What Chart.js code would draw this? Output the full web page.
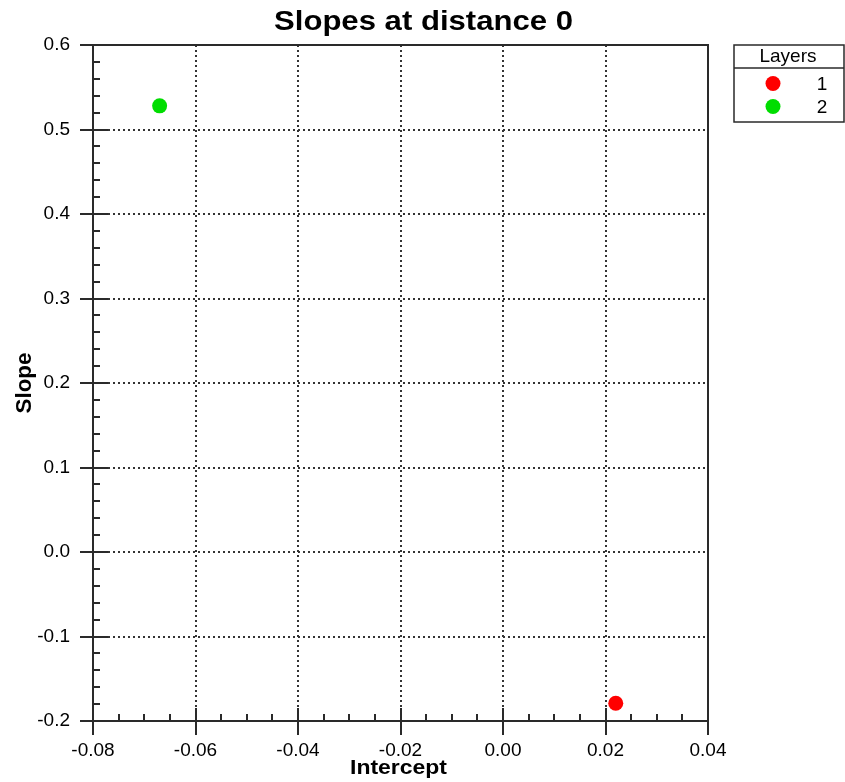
<!DOCTYPE html>
<html>
<head>
<meta charset="utf-8">
<script src="https://cdn.jsdelivr.net/npm/chart.js@4"></script>
<style>
html,body{margin:0;padding:0;background:#fff;}
#wrap{width:845px;height:782px;position:relative;}
</style>
</head>
<body>
<div id="wrap"><canvas id="c" width="845" height="782"></canvas></div>
<script>
// ---- data ----
const chartTitle = 'Slopes at distance 0';
const xAxisTitle = 'Intercept';
const yAxisTitle = 'Slope';
const legendTitle = 'Layers';
const layerNames = ['1', '2'];
const layerColors = ['#ff0000', '#00dd00'];
const interceptValues = [0.022, -0.067];
const slopeValues = [-0.179, 0.528];
const xTickValues = [-0.08, -0.06, -0.04, -0.02, 0.00, 0.02, 0.04];
const yTickValues = [-0.2, -0.1, 0.0, 0.1, 0.2, 0.3, 0.4, 0.5, 0.6];

const FONT = '"Liberation Sans", Arial, Helvetica, sans-serif';

const datasets = layerNames.map((name, i) => ({
  label: name,
  data: [{x: interceptValues[i], y: slopeValues[i]}],
  backgroundColor: layerColors[i],
  borderWidth: 0,
  pointRadius: 7.5,
  pointHoverRadius: 7.5
}));

function drawStretched(ctx, text, cx, baseY, font, targetW, rotate) {
  ctx.save();
  ctx.font = font;
  const w = ctx.measureText(text).width;
  const sx = targetW ? targetW / w : 1;
  ctx.translate(cx, baseY);
  if (rotate) ctx.rotate(-Math.PI / 2);
  ctx.scale(sx, 1);
  ctx.textAlign = 'center';
  ctx.textBaseline = 'alphabetic';
  ctx.fillStyle = '#000';
  ctx.fillText(text, 0, 0);
  ctx.restore();
}

const framePlugin = {
  id: 'frame',
  afterDraw(chart) {
    const ctx = chart.ctx;
    const a = chart.chartArea;
    const xs = chart.scales.x, ys = chart.scales.y;
    ctx.save();
    ctx.strokeStyle = '#2a2a2a';
    ctx.lineWidth = 2;
    ctx.setLineDash([]);
    ctx.strokeRect(a.left, a.top, a.right - a.left, a.bottom - a.top);
    ctx.beginPath();
    for (let i = 0; i < xTickValues.length; i++) {
      const px = Math.round(xs.getPixelForValue(xTickValues[i]));
      ctx.moveTo(px, a.bottom - 13);
      ctx.lineTo(px, a.bottom + 14);
      if (i < xTickValues.length - 1) {
        const step = (xTickValues[i + 1] - xTickValues[i]) / 4;
        for (let k = 1; k < 4; k++) {
          const mx = Math.round(xs.getPixelForValue(xTickValues[i] + step * k));
          ctx.moveTo(mx, a.bottom);
          ctx.lineTo(mx, a.bottom - 7);
        }
      }
    }
    for (let i = 0; i < yTickValues.length; i++) {
      const py = Math.round(ys.getPixelForValue(yTickValues[i]));
      ctx.moveTo(a.left - 13, py);
      ctx.lineTo(a.left + 15, py);
      if (i < yTickValues.length - 1) {
        const step = (yTickValues[i + 1] - yTickValues[i]) / 5;
        for (let k = 1; k < 5; k++) {
          const my = Math.round(ys.getPixelForValue(yTickValues[i] + step * k));
          ctx.moveTo(a.left, my);
          ctx.lineTo(a.left + 7, my);
        }
      }
    }
    ctx.stroke();
    ctx.restore();

    drawStretched(ctx, chartTitle, 423.5, 30, 'bold 27px ' + FONT, 299, false);
    drawStretched(ctx, xAxisTitle, 398.5, 774, 'bold 21px ' + FONT, 97, false);
    drawStretched(ctx, yAxisTitle, 31, 383, 'bold 22px ' + FONT, 61, true);

    const lx = 734, ly = 45, lw = 110, lh = 77, hy = 68;
    ctx.save();
    ctx.strokeStyle = '#2a2a2a';
    ctx.lineWidth = 1.5;
    ctx.strokeRect(lx, ly, lw, lh);
    ctx.beginPath();
    ctx.moveTo(lx, hy); ctx.lineTo(lx + lw, hy);
    ctx.stroke();
    ctx.fillStyle = '#000';
    ctx.font = '19px ' + FONT;
    ctx.textAlign = 'center';
    ctx.textBaseline = 'alphabetic';
    ctx.fillText(legendTitle, 788, 62);
    chart.data.datasets.forEach((ds, i) => {
      const cy = 83.5 + i * 23;
      ctx.beginPath();
      ctx.fillStyle = ds.backgroundColor;
      ctx.arc(773, cy, 7.5, 0, Math.PI * 2);
      ctx.fill();
      ctx.fillStyle = '#000';
      ctx.font = '19px ' + FONT;
      ctx.textAlign = 'center';
      ctx.fillText(ds.label, 822, cy + 6.5);
    });
    ctx.restore();
  }
};

new Chart(document.getElementById('c'), {
  type: 'scatter',
  data: { datasets },
  options: {
    responsive: false,
    animation: false,
    devicePixelRatio: 1,
    layout: { padding: { left: 0, right: 137, top: 45, bottom: 0 } },
    plugins: {
      legend: { display: false },
      title: { display: false },
      tooltip: { enabled: false }
    },
    scales: {
      x: {
        type: 'linear',
        min: xTickValues[0],
        max: xTickValues[xTickValues.length - 1],
        afterBuildTicks: (s) => { s.ticks = xTickValues.map(v => ({value: v})); },
        afterFit: (s) => { s.height = 61; },
        ticks: {
          padding: 18,
          color: '#000',
          font: { family: FONT, size: 19 },
          maxRotation: 0,
          autoSkip: false,
          callback: (v) => Number(v).toFixed(2)
        },
        grid: { color: '#333', lineWidth: 2, drawTicks: false },
        border: { display: false, dash: [2, 3] }
      },
      y: {
        type: 'linear',
        min: yTickValues[0],
        max: yTickValues[yTickValues.length - 1],
        afterBuildTicks: (s) => { s.ticks = yTickValues.map(v => ({value: v})); },
        afterFit: (s) => { s.width = 93; },
        ticks: {
          padding: 23,
          color: '#000',
          font: { family: FONT, size: 19 },
          autoSkip: false,
          callback: (v) => Number(v).toFixed(1)
        },
        grid: { color: '#333', lineWidth: 2, drawTicks: false },
        border: { display: false, dash: [2, 3] }
      }
    }
  },
  plugins: [framePlugin]
});
</script>
</body>
</html>
